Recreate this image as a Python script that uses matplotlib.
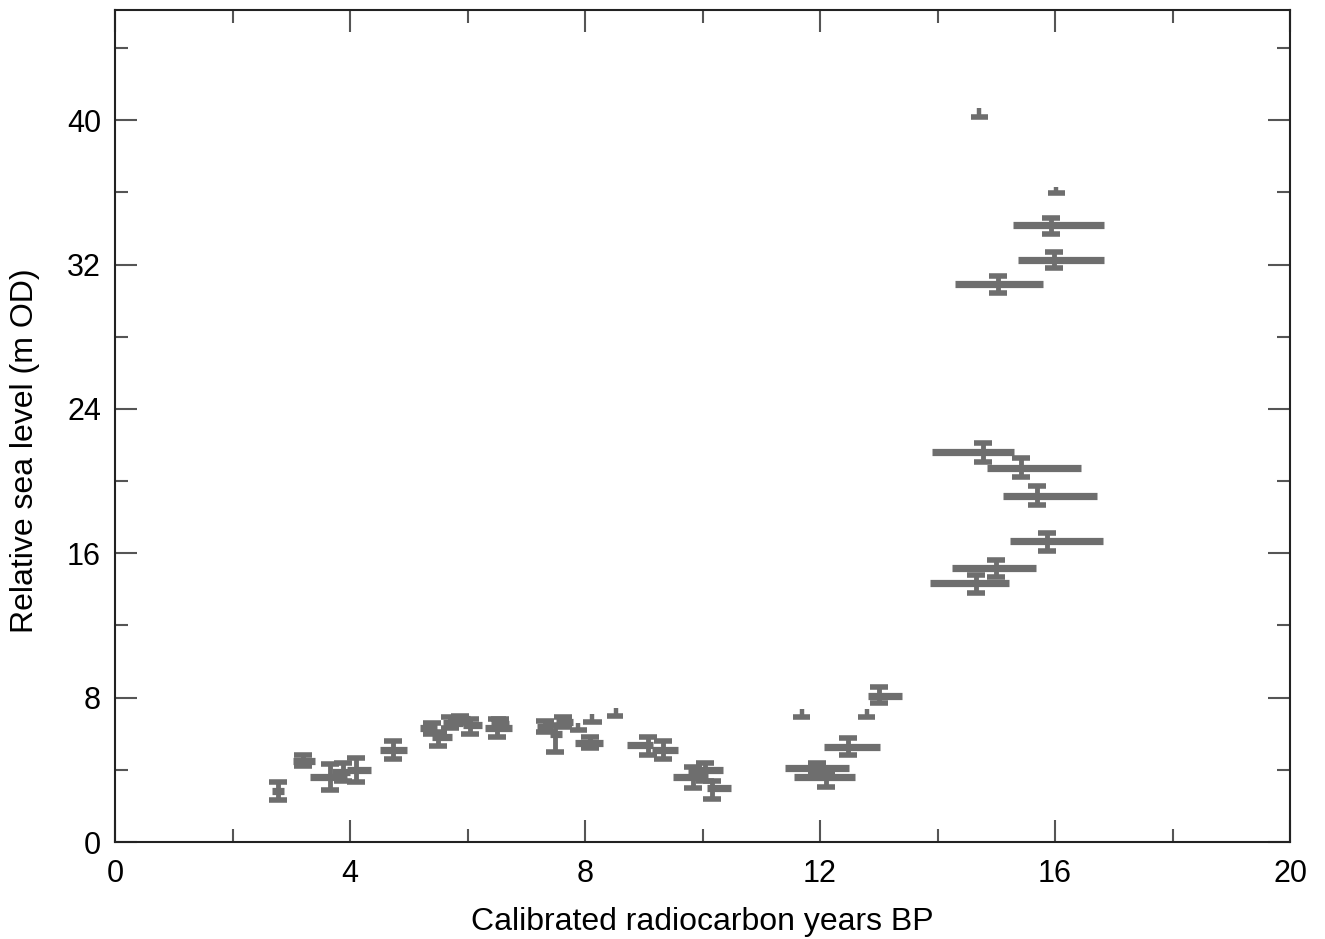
import matplotlib.pyplot as plt
import numpy as np

plt.rcParams['font.family'] = ['Liberation Sans', 'DejaVu Sans']

# index points: age (ka), age range, sea level (m), level range
age = [2.77, 3.2, 3.66, 3.88, 4.1, 4.73, 5.4, 5.5, 5.7, 5.87, 6.04, 6.5, 6.55,
       7.32, 7.49, 7.63, 8.09, 9.07, 9.33, 9.84, 10.04, 10.16, 11.95, 12.1,
       12.48, 13.0, 15.93, 15.98, 15.03, 14.78, 15.42, 15.69, 15.86, 15.0, 14.65]
age_lo = [2.67, 3.03, 3.32, 3.7, 3.95, 4.51, 5.19, 5.4, 5.58, 5.72, 5.93, 6.3, 6.4,
          7.18, 7.4, 7.5, 7.83, 8.71, 9.14, 9.5, 9.75, 10.07, 11.4, 11.55,
          12.07, 12.82, 15.28, 15.37, 14.3, 13.9, 14.84, 15.11, 15.23, 14.24, 13.87]
age_hi = [2.88, 3.4, 3.95, 4.0, 4.35, 4.97, 5.48, 5.73, 5.92, 6.05, 6.25, 6.76, 6.7,
          7.46, 7.6, 7.8, 8.31, 9.16, 9.58, 10.1, 10.35, 10.49, 12.5, 12.6,
          13.02, 13.4, 16.83, 16.83, 15.8, 15.3, 16.44, 16.71, 16.82, 15.68, 15.22]
rsl = [2.8, 4.5, 3.6, 3.9, 4.0, 5.1, 6.3, 5.8, 6.6, 6.8, 6.5, 6.3, 6.55,
       6.4, 6.0, 6.65, 5.48, 5.37, 5.1, 3.6, 4.0, 3.0, 4.1, 3.6,
       5.27, 8.08, 34.2, 32.24, 30.9, 21.6, 20.7, 19.17, 16.68, 15.18, 14.35]
rsl_lo = [2.3, 4.2, 2.9, 3.4, 3.3, 4.6, 6.0, 5.3, 6.3, 6.6, 6.0, 5.8, 6.3,
          6.1, 5.0, 6.4, 5.2, 4.8, 4.6, 3.0, 3.4, 2.4, 3.8, 3.05,
          4.8, 7.7, 33.7, 31.8, 30.4, 21.05, 20.2, 18.7, 16.1, 14.7, 13.8]
rsl_hi = [3.3, 4.8, 4.3, 4.4, 4.65, 5.6, 6.6, 6.1, 6.9, 7.0, 6.8, 6.8, 6.8,
          6.7, 6.5, 6.9, 5.8, 5.8, 5.6, 4.15, 4.4, 3.4, 4.4, 3.9,
          5.76, 8.6, 34.6, 32.7, 31.35, 22.1, 21.27, 19.7, 17.1, 15.6, 14.8]

# limiting points (sea level above this)
lim_age = [7.88, 8.12, 8.53, 11.7, 12.8, 14.71, 16.02]
lim_lo = [7.74, 7.97, 8.37, 11.54, 12.65, 14.57, 15.88]
lim_hi = [8.03, 8.29, 8.65, 11.83, 12.94, 14.86, 16.17]
lim_rsl = [6.2, 6.65, 7.0, 6.93, 6.93, 40.2, 35.95]
lim_top = [6.6, 7.1, 7.4, 7.35, 7.35, 40.65, 36.3]

c = '#6e6e6e'

fig = plt.figure(figsize=(13.25, 9.39), dpi=100)
ax = fig.add_axes([0.0868, 0.1033, 0.8868, 0.886])

age = np.array(age); rsl = np.array(rsl)
ax.errorbar(age, rsl, xerr=[age - np.array(age_lo), np.array(age_hi) - age],
            fmt='none', ecolor=c, elinewidth=5.2, capsize=0)
ax.errorbar(age, rsl, yerr=[rsl - np.array(rsl_lo), np.array(rsl_hi) - rsl],
            fmt='none', ecolor=c, elinewidth=3.5, capsize=6.5, capthick=4)

lim_age = np.array(lim_age); lim_rsl = np.array(lim_rsl)
ax.errorbar(lim_age, lim_rsl, xerr=[lim_age - np.array(lim_lo), np.array(lim_hi) - lim_age],
            fmt='none', ecolor=c, elinewidth=4, capsize=0)
ax.errorbar(lim_age, lim_rsl, yerr=[np.zeros(len(lim_rsl)), np.array(lim_top) - lim_rsl],
            fmt='none', ecolor=c, elinewidth=3.2, capsize=0)

ax.set_xlim(0, 20)
ax.set_ylim(0, 46.1)
ax.set_xticks(np.arange(0, 21, 4))
ax.set_xticks(np.arange(2, 20, 4), minor=True)
ax.set_yticks(np.arange(0, 41, 8))
ax.set_yticks(np.arange(4, 46, 8), minor=True)
ax.tick_params(which='both', direction='in', top=True, right=True, color='#555555',
               width=1.5, labelsize=22)
ax.tick_params(axis='x', pad=12)
ax.tick_params(axis='y', pad=10)
ax.tick_params(which='major', length=15.5)
ax.tick_params(which='minor', length=9.5)
for s in ax.spines.values():
    s.set_linewidth(1.5)
    s.set_color('#222222')

ax.set_xlabel('Calibrated radiocarbon years BP', fontsize=23)
ax.set_ylabel('Relative sea level (m OD)', fontsize=23)
ax.xaxis.set_label_coords(0.5, -0.096)
ax.xaxis.label.set_va('center')
ax.yaxis.set_label_coords(-0.0766, 0.47)
ax.yaxis.label.set_va('center')

fig.savefig('out.png', dpi=100)
